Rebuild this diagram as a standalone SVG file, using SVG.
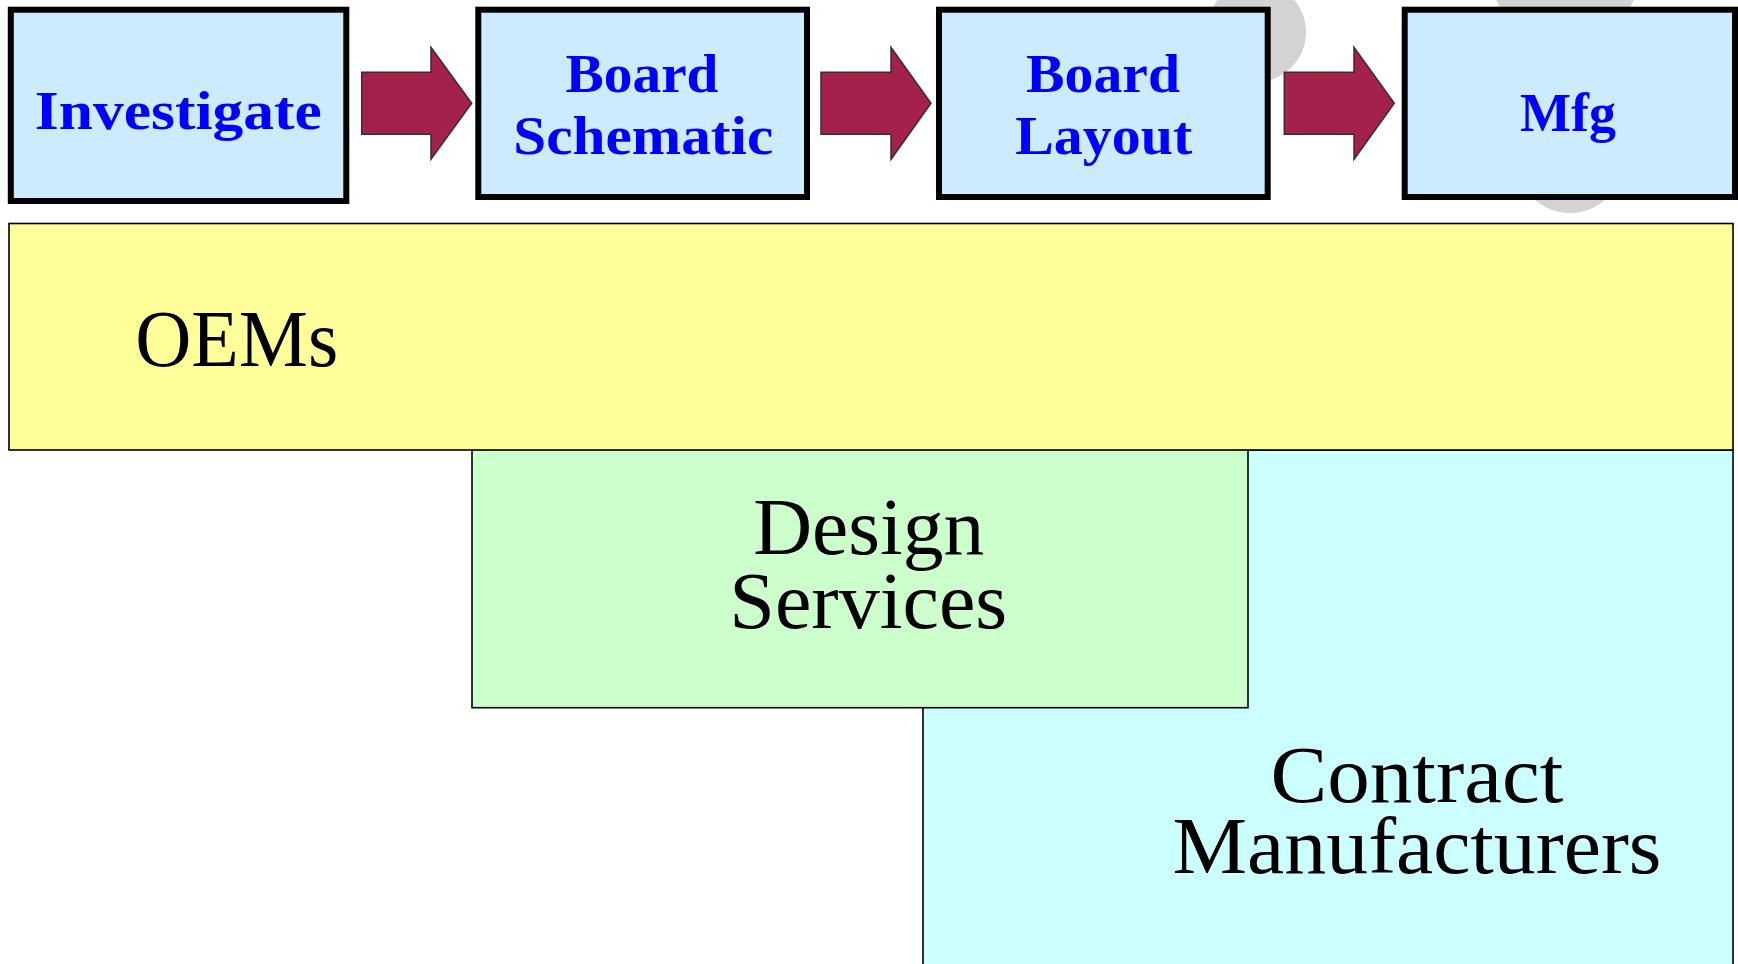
<svg xmlns="http://www.w3.org/2000/svg" width="1738" height="964" viewBox="0 0 1738 964">
  <style>
    .bg { fill: #D3D3D3; stroke: none; }
    .step { fill: #CCEBFF; stroke: #000000; stroke-width: 6; }
    .steptxt { font-family: "Liberation Serif", "Times New Roman", serif; font-weight: bold; font-size: 55px; fill: #0000FF; text-anchor: middle; }
    .arrow { fill: #A3214B; stroke: #3B2B33; stroke-width: 1.5; stroke-linejoin: miter; }
    .band { stroke: #000000; stroke-width: 1.6; }
    .bandtxt { font-family: "Liberation Serif", "Times New Roman", serif; font-size: 80px; fill: #000000; text-anchor: middle; }
  </style>

  <rect width="1738" height="964" fill="#FFFFFF"/>

  <g id="background-shapes">
    <circle class="bg" cx="1256" cy="32" r="50"/>
    <circle class="bg" cx="1565" cy="-30" r="75"/>
    <circle class="bg" cx="1570" cy="160" r="53"/>
  </g>

  <g id="contract-manufacturers">
    <rect class="band" x="923" y="450" width="810" height="530" fill="#CCFFFF"/>
    <text class="bandtxt" x="1417" y="801.7" textLength="293" lengthAdjust="spacingAndGlyphs">Contract</text>
    <text class="bandtxt" x="1417" y="873.3" textLength="489" lengthAdjust="spacingAndGlyphs">Manufacturers</text>
  </g>

  <g id="design-services">
    <rect class="band" x="472" y="449.5" width="776" height="258.2" fill="#CCFFCC"/>
    <text class="bandtxt" x="868.7" y="554" textLength="231" lengthAdjust="spacingAndGlyphs">Design</text>
    <text class="bandtxt" x="868.3" y="628.3" textLength="278" lengthAdjust="spacingAndGlyphs">Services</text>
  </g>

  <g id="oems">
    <rect class="band" x="9" y="223.5" width="1724" height="226.5" fill="#FFFF99"/>
    <text class="bandtxt" x="236.7" y="365.7" font-size="83" textLength="203" lengthAdjust="spacingAndGlyphs">OEMs</text>
  </g>

  <g id="investigate">
    <rect class="step" x="10.8" y="9.7" width="335.5" height="191.3"/>
    <text class="steptxt" x="178.3" y="129" textLength="287" lengthAdjust="spacingAndGlyphs">Investigate</text>
  </g>

  <g id="board-schematic">
    <rect class="step" x="478.3" y="9.7" width="328.7" height="187.3"/>
    <text class="steptxt" x="642" y="91.7" textLength="153" lengthAdjust="spacingAndGlyphs">Board</text>
    <text class="steptxt" x="643.3" y="154.3" textLength="260" lengthAdjust="spacingAndGlyphs">Schematic</text>
  </g>

  <g id="board-layout">
    <rect class="step" x="939" y="9.7" width="328.7" height="187.3"/>
    <text class="steptxt" x="1103" y="91.7" textLength="154" lengthAdjust="spacingAndGlyphs">Board</text>
    <text class="steptxt" x="1103.7" y="154.3" textLength="177" lengthAdjust="spacingAndGlyphs">Layout</text>
  </g>

  <g id="mfg">
    <rect class="step" x="1404.7" y="9.7" width="330.3" height="187.3"/>
    <text class="steptxt" x="1568" y="131" textLength="96" lengthAdjust="spacingAndGlyphs">Mfg</text>
  </g>

  <g id="connectors">
    <polygon class="arrow" points="361.7,72.3 431,72.3 431,47.3 471.7,103.3 431,159.3 431,134.3 361.7,134.3"/>
    <polygon class="arrow" points="821,72.3 891,72.3 891,47.3 931,103.3 891,159.3 891,134.3 821,134.3"/>
    <polygon class="arrow" points="1284.3,72.3 1354,72.3 1354,47.3 1394.3,103.3 1354,159.3 1354,134.3 1284.3,134.3"/>
  </g>
</svg>
